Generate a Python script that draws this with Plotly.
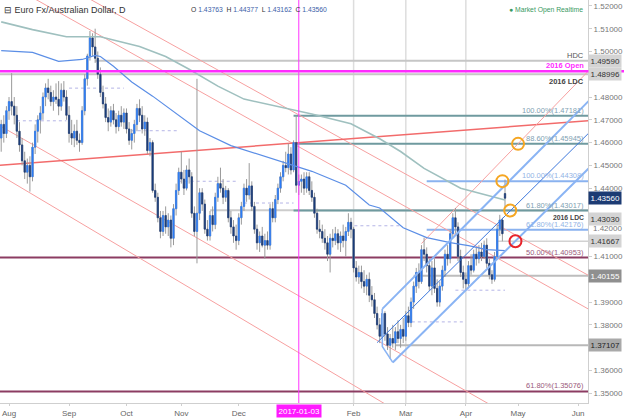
import pandas as pd
import plotly.graph_objects as go

# ---------------- data ----------------
dates = pd.bdate_range("2016-07-27", "2017-04-24")

open_ = [1.4620, 1.4680, 1.4640,
         1.4740, 1.4780, 1.4760, 1.4720, 1.4650,
         1.4590, 1.4520, 1.4470, 1.4500, 1.4450,
         1.4580, 1.4650, 1.4700, 1.4730, 1.4800,
         1.4840, 1.4820, 1.4780, 1.4800, 1.4790,
         1.4760, 1.4830, 1.4800, 1.4720, 1.4640,
         1.4620, 1.4650, 1.4610, 1.4600, 1.4740,
         1.4880, 1.4980, 1.5060, 1.5020, 1.4970,
         1.4900, 1.4820, 1.4770, 1.4710, 1.4690,
         1.4740, 1.4700, 1.4670, 1.4720, 1.4690,
         1.4730, 1.4660, 1.4610, 1.4640, 1.4680,
         1.4750, 1.4720, 1.4660, 1.4690, 1.4565,
         1.4600, 1.4390, 1.4360, 1.4270, 1.4210,
         1.4280, 1.4230, 1.4260, 1.4180, 1.4310,
         1.4390, 1.4470, 1.4440, 1.4400, 1.4480,
         1.4450, 1.4290, 1.4210, 1.4290, 1.4380,
         1.4330, 1.4220, 1.4190, 1.4280, 1.4240,
         1.4360, 1.4420, 1.4400, 1.4360, 1.4390,
         1.4270, 1.4230, 1.4190, 1.4170, 1.4270,
         1.4320, 1.4400, 1.4370, 1.4410, 1.4320,
         1.4220, 1.4160, 1.4190, 1.4150, 1.4170,
         1.4150, 1.4310, 1.4270, 1.4350, 1.4400,
         1.4450, 1.4500, 1.4490, 1.4550, 1.4480,
         1.4600, 1.4413, 1.4430, 1.4440, 1.4400,
         1.4450, 1.4390, 1.4360, 1.4290, 1.4220,
         1.4210, 1.4180, 1.4160, 1.4110, 1.4180,
         1.4170, 1.4200, 1.4160, 1.4190, 1.4170,
         1.4210, 1.4250, 1.4220, 1.4050, 1.4010,
         1.4030, 1.3990, 1.3970, 1.4000, 1.3930,
         1.3910, 1.3850, 1.3800, 1.3750, 1.3850,
         1.3760, 1.3710, 1.3740, 1.3720, 1.3770,
         1.3740, 1.3780, 1.3750, 1.3840, 1.3810,
         1.3900, 1.3970, 1.4030, 1.3990, 1.4130,
         1.4110, 1.4060, 1.3970, 1.4050, 1.3960,
         1.3900, 1.3970, 1.4040, 1.4110, 1.4090,
         1.4200, 1.4270, 1.4230, 1.4100, 1.4030,
         1.4000, 1.3980, 1.4060, 1.4040, 1.4110,
         1.4090, 1.4120, 1.4100, 1.4150, 1.4070,
         1.4020, 1.4000, 1.4100, 1.4220, 1.4260,
         1.43763]

high = [1.4700, 1.4720, 1.4760,
        1.4800, 1.4905, 1.4800, 1.4760, 1.4690,
        1.4620, 1.4560, 1.4530, 1.4540, 1.4600,
        1.4680, 1.4720, 1.4760, 1.4820, 1.4860,
        1.4880, 1.4850, 1.4830, 1.4860, 1.4870,
        1.4860, 1.4870, 1.4830, 1.4760, 1.4700,
        1.4680, 1.4700, 1.4640, 1.4760, 1.4900,
        1.4990, 1.5090, 1.5080, 1.5100, 1.5000,
        1.4930, 1.4850, 1.4800, 1.4750, 1.4760,
        1.4770, 1.4730, 1.4740, 1.4760, 1.4750,
        1.4750, 1.4690, 1.4660, 1.4700, 1.4770,
        1.4790, 1.4760, 1.4720, 1.4710, 1.4620,
        1.4610, 1.4420, 1.4380, 1.4300, 1.4300,
        1.4320, 1.4290, 1.4280, 1.4330, 1.4420,
        1.4490, 1.4560, 1.4480, 1.4500, 1.4530,
        1.4470, 1.4320, 1.4880, 1.4400, 1.4400,
        1.4350, 1.4260, 1.4300, 1.4320, 1.4380,
        1.4450, 1.4490, 1.4440, 1.4410, 1.4400,
        1.4300, 1.4260, 1.4240, 1.4290, 1.4340,
        1.4420, 1.4440, 1.4510, 1.4430, 1.4340,
        1.4240, 1.4210, 1.4230, 1.4200, 1.4210,
        1.4330, 1.4340, 1.4370, 1.4420, 1.4470,
        1.4520, 1.4560, 1.4596, 1.4580, 1.4610,
        1.4718, 1.4460, 1.4460, 1.4470, 1.4470,
        1.4470, 1.4430, 1.4380, 1.4310, 1.4260,
        1.4240, 1.4220, 1.4190, 1.4200, 1.4220,
        1.4230, 1.4220, 1.4210, 1.4240, 1.4230,
        1.4290, 1.4270, 1.4230, 1.4080, 1.4060,
        1.4060, 1.4040, 1.4020, 1.4030, 1.3970,
        1.3940, 1.3880, 1.3830, 1.3870, 1.3860,
        1.3790, 1.3760, 1.3800, 1.3790, 1.3820,
        1.3800, 1.3830, 1.3860, 1.3880, 1.3920,
        1.3990, 1.4050, 1.4070, 1.4150, 1.4183,
        1.4140, 1.4090, 1.4080, 1.4090, 1.4000,
        1.3990, 1.4060, 1.4130, 1.4150, 1.4220,
        1.4290, 1.4313, 1.4250, 1.4130, 1.4060,
        1.4030, 1.4080, 1.4110, 1.4130, 1.4140,
        1.4150, 1.4160, 1.4170, 1.4180, 1.4090,
        1.4040, 1.4120, 1.4240, 1.4283, 1.4270,
        1.44377]

low = [1.4560, 1.4600, 1.4620,
       1.4700, 1.4720, 1.4680, 1.4620, 1.4560,
       1.4500, 1.4440, 1.4420, 1.4385, 1.4430,
       1.4550, 1.4600, 1.4640, 1.4700, 1.4760,
       1.4790, 1.4760, 1.4740, 1.4770, 1.4720,
       1.4740, 1.4780, 1.4700, 1.4600, 1.4590,
       1.4580, 1.4590, 1.4560, 1.4590, 1.4720,
       1.4850, 1.4960, 1.4980, 1.4950, 1.4880,
       1.4800, 1.4750, 1.4690, 1.4650, 1.4670,
       1.4680, 1.4640, 1.4650, 1.4670, 1.4660,
       1.4640, 1.4590, 1.4570, 1.4600, 1.4650,
       1.4690, 1.4640, 1.4630, 1.4550, 1.4540,
       1.4380, 1.4340, 1.4250, 1.4180, 1.4190,
       1.4200, 1.4190, 1.4140, 1.4150, 1.4280,
       1.4370, 1.4420, 1.4370, 1.4390, 1.4420,
       1.4270, 1.4190, 1.4070, 1.4260, 1.4300,
       1.4200, 1.4170, 1.4170, 1.4210, 1.4220,
       1.4340, 1.4380, 1.4330, 1.4340, 1.4250,
       1.4200, 1.4160, 1.4130, 1.4150, 1.4240,
       1.4300, 1.4340, 1.4350, 1.4300, 1.4200,
       1.4130, 1.4120, 1.4140, 1.4090, 1.4130,
       1.4130, 1.4250, 1.4250, 1.4330, 1.4380,
       1.4430, 1.4470, 1.4460, 1.4460, 1.4470,
       1.4380, 1.4370, 1.4380, 1.4370, 1.4380,
       1.4370, 1.4340, 1.4270, 1.4200, 1.4180,
       1.4160, 1.4130, 1.4080, 1.4030, 1.4140,
       1.4150, 1.4130, 1.4120, 1.4140, 1.4100,
       1.4190, 1.4180, 1.4030, 1.3990, 1.3980,
       1.3960, 1.3940, 1.3930, 1.3900, 1.3880,
       1.3830, 1.3780, 1.3720, 1.3740, 1.3730,
       1.3690, 1.3650, 1.3700, 1.3690, 1.3720,
       1.3700, 1.3720, 1.3730, 1.3790, 1.3790,
       1.3870, 1.3940, 1.3960, 1.3980, 1.4080,
       1.4030, 1.3950, 1.3930, 1.3940, 1.3880,
       1.3880, 1.3950, 1.4010, 1.4060, 1.4070,
       1.4180, 1.4200, 1.4080, 1.4010, 1.3960,
       1.3950, 1.3960, 1.4020, 1.4030, 1.4060,
       1.4070, 1.4080, 1.4090, 1.4050, 1.4000,
       1.3980, 1.3990, 1.4090, 1.4190, 1.4167,
       1.43162]

close = [1.4680, 1.4640, 1.4740,
         1.4780, 1.4760, 1.4720, 1.4650, 1.4590,
         1.4520, 1.4470, 1.4500, 1.4450, 1.4580,
         1.4650, 1.4700, 1.4730, 1.4800, 1.4840,
         1.4820, 1.4780, 1.4800, 1.4790, 1.4760,
         1.4830, 1.4800, 1.4720, 1.4640, 1.4620,
         1.4650, 1.4610, 1.4600, 1.4740, 1.4880,
         1.4980, 1.5060, 1.5020, 1.4970, 1.4900,
         1.4820, 1.4770, 1.4710, 1.4690, 1.4740,
         1.4700, 1.4670, 1.4720, 1.4690, 1.4730,
         1.4660, 1.4610, 1.4640, 1.4680, 1.4750,
         1.4720, 1.4660, 1.4690, 1.4565, 1.4600,
         1.4390, 1.4360, 1.4270, 1.4210, 1.4280,
         1.4230, 1.4260, 1.4180, 1.4310, 1.4390,
         1.4470, 1.4440, 1.4400, 1.4480, 1.4450,
         1.4290, 1.4210, 1.4290, 1.4380, 1.4330,
         1.4220, 1.4190, 1.4280, 1.4240, 1.4360,
         1.4420, 1.4400, 1.4360, 1.4390, 1.4270,
         1.4230, 1.4190, 1.4170, 1.4270, 1.4320,
         1.4400, 1.4370, 1.4410, 1.4320, 1.4220,
         1.4160, 1.4190, 1.4150, 1.4170, 1.4150,
         1.4310, 1.4270, 1.4350, 1.4400, 1.4450,
         1.4500, 1.4490, 1.4550, 1.4480, 1.4600,
         1.4413, 1.4430, 1.4440, 1.4400, 1.4450,
         1.4390, 1.4360, 1.4290, 1.4220, 1.4210,
         1.4180, 1.4160, 1.4110, 1.4180, 1.4170,
         1.4200, 1.4160, 1.4190, 1.4170, 1.4210,
         1.4250, 1.4220, 1.4050, 1.4010, 1.4030,
         1.3990, 1.3970, 1.4000, 1.3930, 1.3910,
         1.3850, 1.3800, 1.3750, 1.3850, 1.3760,
         1.3710, 1.3740, 1.3720, 1.3770, 1.3740,
         1.3780, 1.3750, 1.3840, 1.3810, 1.3900,
         1.3970, 1.4030, 1.3990, 1.4130, 1.4110,
         1.4060, 1.3970, 1.4050, 1.3960, 1.3900,
         1.3970, 1.4040, 1.4110, 1.4090, 1.4200,
         1.4270, 1.4230, 1.4100, 1.4030, 1.4000,
         1.3980, 1.4060, 1.4040, 1.4110, 1.4090,
         1.4120, 1.4100, 1.4150, 1.4070, 1.4020,
         1.4000, 1.4100, 1.4220, 1.4260, 1.4200,
         1.43560]

# moving averages
ma_fast_dates = ["2016-07-27", "2016-08-12", "2016-08-26", "2016-09-08", "2016-09-15",
                 "2016-09-19", "2016-09-26", "2016-10-05", "2016-10-17", "2016-10-27",
                 "2016-11-04", "2016-11-10", "2016-11-28", "2016-12-14", "2016-12-23",
                 "2017-01-10", "2017-01-27", "2017-02-09", "2017-02-15", "2017-02-28",
                 "2017-03-13", "2017-03-24", "2017-04-04", "2017-04-13", "2017-04-24"]
ma_fast = [1.5004, 1.4996, 1.4957, 1.4965, 1.4983, 1.4978, 1.4935, 1.4866, 1.4804, 1.4735,
           1.4687, 1.4652, 1.4587, 1.4543, 1.4517, 1.4474, 1.4413, 1.4326, 1.4313, 1.4226,
           1.4183, 1.4161, 1.4148, 1.4130, 1.4126]
ma_slow_dates = ["2016-07-27", "2016-08-12", "2016-08-31", "2016-09-19", "2016-10-10",
                 "2016-10-24", "2016-11-04", "2016-11-21", "2016-12-05", "2016-12-29",
                 "2017-01-10", "2017-01-31", "2017-02-15", "2017-02-27", "2017-03-10",
                 "2017-03-30", "2017-04-24"]
ma_slow = [1.5130, 1.5096, 1.5065, 1.5065, 1.5022, 1.4978, 1.4922, 1.4848, 1.4791, 1.4748,
           1.4726, 1.4683, 1.4617, 1.4561, 1.4487, 1.4400, 1.4348]

# trend lines: (date0, price0, date1, price1)
red_channel = [("2016-07-26", 1.5320, "2017-06-07", 1.3869),
               ("2016-07-26", 1.5452, "2017-06-07", 1.4017),
               ("2016-07-26", 1.4677, "2017-06-07", 1.3204),
               ("2016-07-26", 1.4461, "2017-06-07", 1.2922)]
red_support = ("2016-07-26", 1.4500, "2017-06-07", 1.4696)
red_steep = ("2017-03-09", 1.4157, "2017-06-07", 1.4915)
fork_outer = [("2017-02-16", 1.3870, "2017-06-07", 1.4782),
              ("2017-02-22", 1.3635, "2017-06-07", 1.4486)]
fork_median = ("2017-02-14", 1.3722, "2017-06-07", 1.4641)
fork_handle_dates = ["2017-02-16", "2017-02-16", "2017-02-22"]
fork_handle_prices = [1.3870, 1.3705, 1.3635]

# horizontal levels: (start date or None = left edge, price, colour, width)
levels = [("2016-09-15", 1.49590, "#c6c6c6", 2),
          (None, 1.48996, "#c6c6c6", 2),
          ("2016-11-16", 1.43030, "#cccccc", 2),
          ("2016-12-30", 1.47181, "#6f9a9f", 2),
          ("2016-12-30", 1.45945, "#6f9a9f", 2),
          ("2016-12-30", 1.43017, "#6f9a9f", 2),
          ("2017-03-13", 1.44308, "#8ab2ef", 2),
          ("2017-03-13", 1.42176, "#8ab2ef", 2),
          (None, 1.40953, "#8c3c62", 2),
          (None, 1.35076, "#8c3c62", 2),
          ("2017-04-19", 1.41667, "#d2d2d2", 1.5),
          ("2017-03-06", 1.40155, "#bdbdbd", 2),
          ("2017-02-23", 1.37107, "#b8b8b8", 2)]
open_2016 = 1.4913

# dotted pivot markers: (start, end, price)
dotted = [("2016-08-04", "2016-08-31", 1.46957), ("2016-09-01", "2016-09-30", 1.48391),
          ("2016-10-05", "2016-10-31", 1.46522), ("2016-10-31", "2016-12-01", 1.44304),
          ("2016-12-05", "2016-12-30", 1.43348), ("2017-01-30", "2017-02-27", 1.42350),
          ("2017-03-01", "2017-03-31", 1.38130), ("2017-03-28", "2017-04-24", 1.39522)]

# level captions: (text, price, colour, size)
captions = [("100.00%(1.47181)", 1.47181, "#7f9fb3", 7.5),
            ("88.60%(1.45945)", 1.45945, "#7f9fb3", 7.5),
            ("100.00%(1.44308)", 1.44308, "#93b4e6", 7.5),
            ("61.80%(1.43017)", 1.43017, "#7f9fb3", 7.5),
            ("61.80%(1.42176)", 1.42176, "#93b4e6", 7.5),
            ("50.00%(1.40953)", 1.40953, "#9b5a7c", 7.5),
            ("61.80%(1.35076)", 1.35076, "#9b5a7c", 7.5)]

# axis price tags: (price, background, text colour, vertical nudge px)
tags = [(1.49590, "#d4d4d4", "#333333", 0), (1.48996, "#d4d4d4", "#333333", 0),
        (1.43560, "#1c3b73", "#ffffff", 0), (1.43030, "#d4d4d4", "#333333", -9),
        (1.41667, "#d4d4d4", "#333333", 0), (1.40155, "#8f8f8f", "#ffffff", 0),
        (1.37107, "#a9a9a9", "#222222", 0)]

circles_orange = [("2017-05-01", 1.45945), ("2017-04-21", 1.44308), ("2017-04-26", 1.43017)]
circles_red = [("2017-04-28", 1.41667)]

month_ticks = ["2016-08-01", "2016-09-01", "2016-10-03", "2016-11-01", "2016-12-01",
               "2017-02-01", "2017-03-01", "2017-04-03", "2017-05-01", "2017-06-01"]
month_labels = ["Aug", "Sep", "Oct", "Nov", "Dec", "Feb", "Mar", "Apr", "May", "Jun"]
grid_months = ["2017-02-01", "2017-03-01", "2017-04-03"]
marker_day = "2017-01-03"
price_ticks = [1.52, 1.51, 1.50, 1.48, 1.47, 1.46, 1.45, 1.44, 1.41, 1.39, 1.38, 1.36, 1.35]
nudged_tick = 1.42

X_RANGE = ["2016-07-26 13:00", "2017-06-06 19:00"]
Y_RANGE = [1.3457, 1.5226]
X_RIGHT = "2017-06-08"

# ---------------- figure ----------------
fig = go.Figure()
FONT = "Liberation Sans, Arial, sans-serif"

fig.add_trace(go.Scatter(x=ma_slow_dates, y=ma_slow, mode="lines",
                         line=dict(color="#9fc0bf", width=1.6), hoverinfo="skip"))
fig.add_trace(go.Scatter(x=ma_fast_dates, y=ma_fast, mode="lines",
                         line=dict(color="#5b8ee6", width=1.2), hoverinfo="skip"))

# wicks (grey)
fig.add_trace(go.Candlestick(x=dates, open=open_, high=high, low=low, close=close,
                             increasing=dict(line=dict(color="#9a9a9a", width=1), fillcolor="#9a9a9a"),
                             decreasing=dict(line=dict(color="#9a9a9a", width=1), fillcolor="#9a9a9a"),
                             whiskerwidth=0, hoverinfo="skip"))
# bodies
body_hi = [max(o, c) for o, c in zip(open_, close)]
body_lo = [min(o, c) for o, c in zip(open_, close)]
fig.add_trace(go.Candlestick(x=dates, open=open_, high=body_hi, low=body_lo, close=close,
                             increasing=dict(line=dict(color="#2b7cf6", width=0.6), fillcolor="#2b7cf6"),
                             decreasing=dict(line=dict(color="#1b3c7a", width=0.6), fillcolor="#1b3c7a"),
                             whiskerwidth=0, hoverinfo="skip"))
# pitchfork handle
fig.add_trace(go.Scatter(x=fork_handle_dates, y=fork_handle_prices, mode="lines",
                         line=dict(color="#8ab4f4", width=1.5), hoverinfo="skip"))

shapes = []
for d in grid_months:
    shapes.append(dict(type="line", xref="x", yref="paper", x0=d, x1=d, y0=0, y1=1,
                       line=dict(color="#dddddd", width=1.5), layer="below"))
for d0, d1, p in dotted:
    shapes.append(dict(type="line", xref="x", yref="y", x0=d0, x1=d1, y0=p, y1=p,
                       line=dict(color="#b4b4e6", width=1, dash="dot"), layer="below"))
for start, p, col, w in levels:
    x0 = start if start else X_RANGE[0]
    shapes.append(dict(type="line", xref="x", yref="y", x0=x0, x1=X_RIGHT, y0=p, y1=p,
                       line=dict(color=col, width=w), layer="below"))
shapes.append(dict(type="line", xref="paper", yref="y", x0=0, x1=1.07, y0=open_2016, y1=open_2016,
                   line=dict(color="#ff2bff", width=2.5)))
for d0, p0, d1, p1 in red_channel:
    shapes.append(dict(type="line", xref="x", yref="y", x0=d0, y0=p0, x1=d1, y1=p1,
                       line=dict(color="#f7a0a0", width=1), layer="below"))
d0, p0, d1, p1 = red_support
shapes.append(dict(type="line", xref="x", yref="y", x0=d0, y0=p0, x1=d1, y1=p1,
                   line=dict(color="#f26b6b", width=1.5), layer="below"))
d0, p0, d1, p1 = red_steep
shapes.append(dict(type="line", xref="x", yref="y", x0=d0, y0=p0, x1=d1, y1=p1,
                   line=dict(color="#f7a0a0", width=1), layer="below"))
for d0, p0, d1, p1 in fork_outer:
    shapes.append(dict(type="line", xref="x", yref="y", x0=d0, y0=p0, x1=d1, y1=p1,
                       line=dict(color="#8ab4f4", width=2)))
d0, p0, d1, p1 = fork_median
shapes.append(dict(type="line", xref="x", yref="y", x0=d0, y0=p0, x1=d1, y1=p1,
                   line=dict(color="#3d78dc", width=1)))
shapes.append(dict(type="line", xref="x", yref="paper", x0=marker_day, x1=marker_day, y0=0, y1=1,
                   line=dict(color="#ff33ff", width=1)))
for d, p in circles_orange:
    shapes.append(dict(type="circle", xref="x", yref="y", xsizemode="pixel", ysizemode="pixel",
                       xanchor=d, yanchor=p, x0=-6, x1=6, y0=-6, y1=6,
                       line=dict(color="#f5a623", width=2)))
for d, p in circles_red:
    shapes.append(dict(type="circle", xref="x", yref="y", xsizemode="pixel", ysizemode="pixel",
                       xanchor=d, yanchor=p, x0=-6, x1=6, y0=-6, y1=6,
                       line=dict(color="#e8232b", width=2)))

annotations = []
for text, p, col, size in captions:
    annotations.append(dict(xref="paper", yref="y", x=0.996, y=p, xanchor="right", yanchor="bottom",
                            text=text, showarrow=False, font=dict(family=FONT, size=size, color=col),
                            yshift=-1))
annotations += [
    dict(xref="paper", yref="y", x=0.996, y=1.49590, xanchor="right", yanchor="bottom", text="HDC",
         showarrow=False, font=dict(family=FONT, size=7.5, color="#555555"), yshift=-1),
    dict(xref="paper", yref="y", x=0.996, y=open_2016, xanchor="right", yanchor="bottom",
         text="<b>2016 Open</b>", showarrow=False, font=dict(family=FONT, size=7.5, color="#ff2bff"),
         yshift=-1),
    dict(xref="paper", yref="y", x=0.996, y=1.48996, xanchor="right", yanchor="top",
         text="<b>2016 LDC</b>", showarrow=False, font=dict(family=FONT, size=7.5, color="#444444"),
         yshift=-1),
    dict(xref="paper", yref="y", x=0.996, y=1.43017, xanchor="right", yanchor="top",
         text="<b>2016 LDC</b>", showarrow=False, font=dict(family=FONT, size=6.8, color="#444444"),
         yshift=-1),
]
for p, bg, fc, nudge in tags:
    annotations.append(dict(xref="paper", yref="y", x=1, y=p, xanchor="left", yanchor="middle",
                            text="%.5f" % p, showarrow=False, bgcolor=bg, borderpad=1.5, xshift=0,
                            yshift=nudge, font=dict(family=FONT, size=8, color=fc)))
annotations.append(dict(xref="paper", yref="y", x=1, y=nudged_tick, xanchor="left", yanchor="middle",
                        text="%.5f" % nudged_tick, showarrow=False, xshift=3, yshift=5,
                        font=dict(family=FONT, size=8, color="#777777")))
annotations.append(dict(xref="x", yref="paper", x=marker_day, y=0, xanchor="center", yanchor="top",
                        text="2017-01-03", showarrow=False, bgcolor="#ff1aff", borderpad=1.5,
                        yshift=-1, font=dict(family=FONT, size=8, color="#ffffff")))
annotations.append(dict(xref="paper", yref="paper", x=0.003, y=1, xanchor="left", yanchor="top",
                        yshift=-3, text="⊟ Euro Fx/Australian Dollar, D", showarrow=False,
                        font=dict(family=FONT, size=9, color="#333333")))
ohlc_txt = ("O <span style='color:#3b5ea8'>1.43763</span>  H <span style='color:#3b5ea8'>1.44377</span>"
            "  L <span style='color:#3b5ea8'>1.43162</span>  C <span style='color:#3b5ea8'>1.43560</span>")
annotations.append(dict(xref="paper", yref="paper", x=0.322, y=1, xanchor="left", yanchor="top",
                        yshift=-4, text=ohlc_txt, showarrow=False,
                        font=dict(family=FONT, size=6.8, color="#333333")))
annotations.append(dict(xref="paper", yref="paper", x=0.995, y=1, xanchor="right", yanchor="top",
                        yshift=-4, text="● Market Open Realtime", showarrow=False,
                        font=dict(family=FONT, size=6.8, color="#3a9a62")))

fig.update_layout(
    width=624, height=418,
    margin=dict(l=0, r=36, t=0, b=11),
    paper_bgcolor="white", plot_bgcolor="white",
    showlegend=False,
    shapes=shapes, annotations=annotations,
    xaxis=dict(type="date", range=X_RANGE, rangebreaks=[dict(bounds=["sat", "mon"])],
               rangeslider=dict(visible=False), showgrid=False, zeroline=False,
               showline=True, linecolor="#cfcfcf", linewidth=1,
               tickmode="array", tickvals=month_ticks, ticktext=month_labels,
               ticks="outside", ticklen=2, tickcolor="#cfcfcf",
               tickfont=dict(family=FONT, size=8, color="#666666")),
    yaxis=dict(side="right", range=Y_RANGE, showgrid=False, zeroline=False,
               showline=True, linecolor="#cfcfcf", linewidth=1,
               tickmode="array", tickvals=price_ticks, ticktext=["%.5f" % v for v in price_ticks],
               ticks="outside", ticklen=3, tickcolor="#cfcfcf",
               tickfont=dict(family=FONT, size=8, color="#777777")),
)

fig.write_html("out.html", config={"displayModeBar": False},
               post_script="document.body.style.margin='0px';")
